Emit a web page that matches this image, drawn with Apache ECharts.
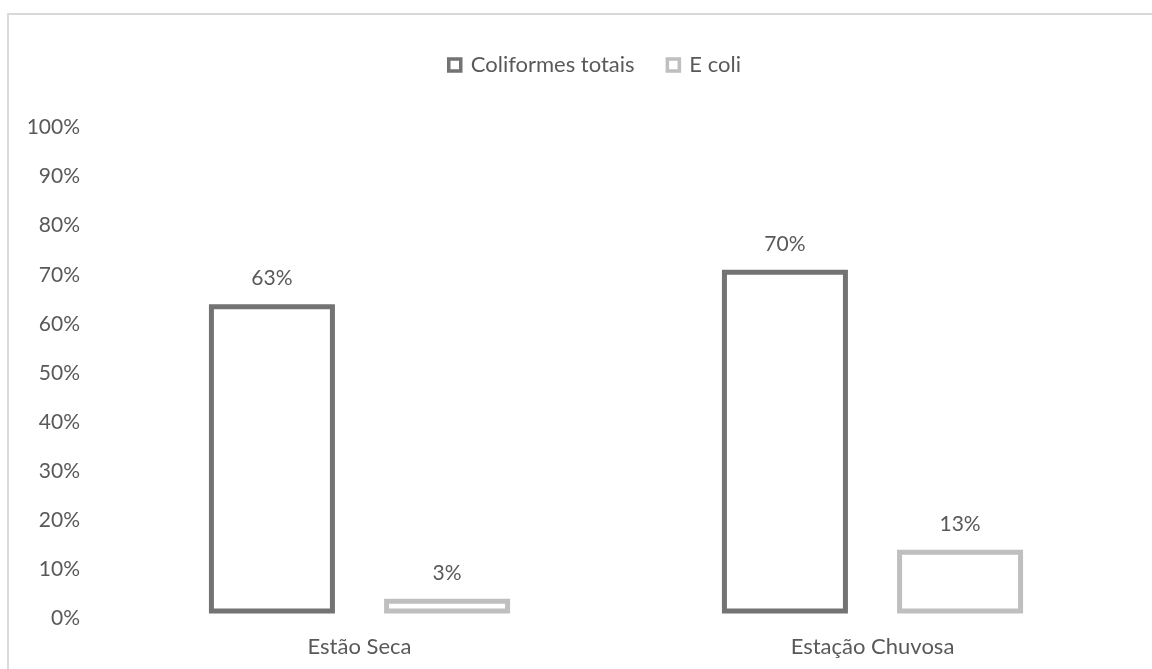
<!DOCTYPE html>
<html>
<head>
<meta charset="utf-8">
<script src="https://cdn.jsdelivr.net/npm/echarts@6/dist/echarts.min.js"></script>
<style>
html,body{margin:0;padding:0;background:#fff;}
#chart{width:1152px;height:669px;}
</style>
</head>
<body>
<div id="chart"></div>
<script>
const categories = ['Estão Seca', 'Estação Chuvosa'];
const coliformesTotais = [63, 70];
const eColi = [3, 13];
const seriesNames = ['Coliformes totais', 'E coli'];

const FONT = 'Lato';
const TEXT = '#595959';
const DARK = '#737373';
const LIGHT = '#bfbfbf';

const chart = echarts.init(document.getElementById('chart'), null, {renderer: 'canvas'});
chart.setOption({
  animation: false,
  backgroundColor: '#fff',
  textStyle: {fontFamily: FONT, color: TEXT},
  graphic: [{
    type: 'rect',
    shape: {x: 8, y: 14, width: 1300, height: 800},
    style: {fill: 'none', stroke: '#d9d9d9', lineWidth: 2},
    silent: true,
    z: -1
  }],
  legend: {
    top: 54,
    left: 447,
    padding: 0,
    itemWidth: 12,
    itemHeight: 12,
    itemGap: 31,
    icon: 'rect',
    textStyle: {fontFamily: FONT, fontSize: 22, color: TEXT, padding: [0, 0, 0, 5]},
    data: [
      {name: seriesNames[0], itemStyle: {color: '#fff', borderColor: DARK, borderWidth: 3.5}},
      {name: seriesNames[1], itemStyle: {color: '#fff', borderColor: LIGHT, borderWidth: 3.5}}
    ]
  },
  grid: {left: 103, right: 23, top: 122.5, bottom: 55.5, containLabel: false},
  xAxis: {
    type: 'category',
    data: categories,
    axisLine: {show: false},
    axisTick: {show: false},
    axisLabel: {fontFamily: FONT, fontSize: 22, color: TEXT, margin: 22}
  },
  yAxis: {
    type: 'value',
    min: 0,
    max: 100,
    interval: 10,
    splitLine: {show: false},
    axisLine: {show: false},
    axisTick: {show: false},
    axisLabel: {fontFamily: FONT, fontSize: 21, color: TEXT, margin: 23, verticalAlign: 'top', lineHeight: 10, formatter: '{value}%'}
  },
  series: [
    {
      name: seriesNames[0],
      type: 'bar',
      data: coliformesTotais,
      barWidth: 126,
      barGap: '39%',
      itemStyle: {color: '#fff', borderColor: DARK, borderWidth: 5},
      label: {show: true, position: 'top', distance: 15, formatter: '{c}%', fontFamily: FONT, fontSize: 21, color: TEXT}
    },
    {
      name: seriesNames[1],
      type: 'bar',
      data: eColi,
      barWidth: 126,
      barGap: '39%',
      itemStyle: {color: '#fff', borderColor: LIGHT, borderWidth: 5},
      label: {show: true, position: 'top', distance: 15, formatter: '{c}%', fontFamily: FONT, fontSize: 21, color: TEXT}
    }
  ]
});
</script>
</body>
</html>
